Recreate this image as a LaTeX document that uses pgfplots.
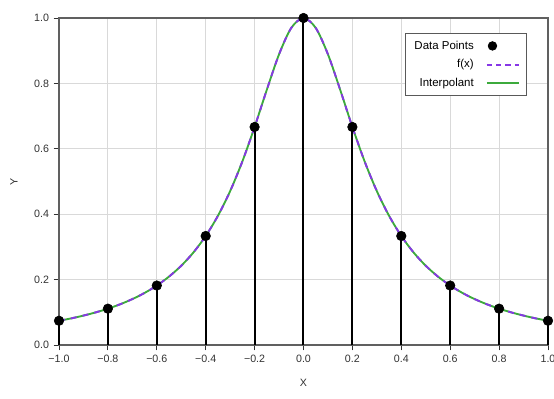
\documentclass[border=0pt]{standalone}
\usepackage{fontspec}
\setmainfont{Liberation Sans}
\usepackage{pgfplots}
\pgfplotsset{compat=1.18}
\definecolor{fpurple}{RGB}{135,55,230}
\definecolor{igreen}{RGB}{60,170,60}
\definecolor{txt}{RGB}{50,50,50}
\begin{document}
\begin{tikzpicture}
\begin{axis}[
  at={(0,0)}, anchor=south west,
  scale only axis,
  width=366.75pt, height=245.25pt,
  xmin=-1, xmax=1, ymin=0, ymax=1,
  xtick={-1,-0.8,-0.6,-0.4,-0.2,0,0.2,0.4,0.6,0.8,1},
  xticklabels={−1.0,−0.8,−0.6,−0.4,−0.2,0.0,0.2,0.4,0.6,0.8,1.0},
  ytick={0,0.2,0.4,0.6,0.8,1},
  yticklabels={0.0,0.2,0.4,0.6,0.8,1.0},
  tick align=outside, tick pos=left,
  major tick length=4pt,
  tick style={txt, line width=0.6pt},
  grid=major,
  grid style={gray!30, line width=0.6pt},
  axis line style={gray!75!black, line width=0.8pt},
  ticklabel style={font=\fontsize{8}{9}\selectfont, text=txt},
  xlabel={X}, ylabel={Y},
  label style={font=\fontsize{8}{9}\selectfont, text=txt},
  xlabel style={at={(axis description cs:0.5,-0.116)}, anchor=center},
  ylabel style={at={(axis description cs:-0.092,0.5)}, anchor=center, rotate=0},
  clip=false,
  legend cell align=right,
  legend plot pos=right,
  legend image code/.code={\path (0cm,0cm); \draw[mark repeat=2,mark phase=2,#1] plot coordinates {(0.25cm,0cm) (0.4cm,0cm) (1.1cm,0cm)};},
  legend style={at={(0.957,0.954)}, anchor=north east, font=\fontsize{8.6}{10}\selectfont,
    draw=gray!70!black, line width=0.6pt, inner xsep=5pt, inner ysep=3.5pt, row sep=2.3pt},
]
\addlegendimage{only marks, mark=*, black, mark size=3.2pt}
\addlegendentry{Data Points}
\addlegendimage{draw=fpurple, line width=1.3pt, dash pattern=on 4pt off 3pt}
\addlegendentry{f(x)}
\addlegendimage{draw=igreen, line width=1.3pt, solid}
\addlegendentry{Interpolant}

\addplot[ycomb, black, line width=1.5pt, forget plot] coordinates {
(-1.0,0.0741) (-0.8,0.1111) (-0.6,0.1818) (-0.4,0.3333) (-0.2,0.6667) (0.0,1.0)
(0.2,0.6667) (0.4,0.3333) (0.6,0.1818) (0.8,0.1111) (1.0,0.0741)};

\addplot[igreen, line width=1.4pt, smooth, forget plot] coordinates {
(-1.0,0.0741) (-0.95,0.0814) (-0.9,0.0899) (-0.85,0.0997) (-0.8,0.1111) (-0.75,0.1245)
(-0.7,0.1404) (-0.65,0.1592) (-0.6,0.1818) (-0.55,0.2092) (-0.5,0.2424) (-0.45,0.2832)
(-0.4,0.3333) (-0.35,0.3951) (-0.3,0.4706) (-0.25,0.5614) (-0.2,0.6667) (-0.15,0.7805)
(-0.1,0.8889) (-0.05,0.9697) (0.0,1.0) (0.05,0.9697) (0.1,0.8889) (0.15,0.7805)
(0.2,0.6667) (0.25,0.5614) (0.3,0.4706) (0.35,0.3951) (0.4,0.3333) (0.45,0.2832)
(0.5,0.2424) (0.55,0.2092) (0.6,0.1818) (0.65,0.1592) (0.7,0.1404) (0.75,0.1245)
(0.8,0.1111) (0.85,0.0997) (0.9,0.0899) (0.95,0.0814) (1.0,0.0741)};

\addplot[fpurple, line width=1.4pt, smooth, dash pattern=on 4.5pt off 4.5pt, forget plot] coordinates {
(-1.0,0.0741) (-0.95,0.0814) (-0.9,0.0899) (-0.85,0.0997) (-0.8,0.1111) (-0.75,0.1245)
(-0.7,0.1404) (-0.65,0.1592) (-0.6,0.1818) (-0.55,0.2092) (-0.5,0.2424) (-0.45,0.2832)
(-0.4,0.3333) (-0.35,0.3951) (-0.3,0.4706) (-0.25,0.5614) (-0.2,0.6667) (-0.15,0.7805)
(-0.1,0.8889) (-0.05,0.9697) (0.0,1.0) (0.05,0.9697) (0.1,0.8889) (0.15,0.7805)
(0.2,0.6667) (0.25,0.5614) (0.3,0.4706) (0.35,0.3951) (0.4,0.3333) (0.45,0.2832)
(0.5,0.2424) (0.55,0.2092) (0.6,0.1818) (0.65,0.1592) (0.7,0.1404) (0.75,0.1245)
(0.8,0.1111) (0.85,0.0997) (0.9,0.0899) (0.95,0.0814) (1.0,0.0741)};

\addplot[only marks, mark=*, black, mark size=3.6pt, forget plot] coordinates {
(-1.0,0.0741) (-0.8,0.1111) (-0.6,0.1818) (-0.4,0.3333) (-0.2,0.6667) (0.0,1.0)
(0.2,0.6667) (0.4,0.3333) (0.6,0.1818) (0.8,0.1111) (1.0,0.0741)};
\end{axis}
\pgfresetboundingbox
\path[use as bounding box] (-44.25pt,-40.5pt) rectangle (371.25pt,258.75pt);
\end{tikzpicture}
\end{document}
